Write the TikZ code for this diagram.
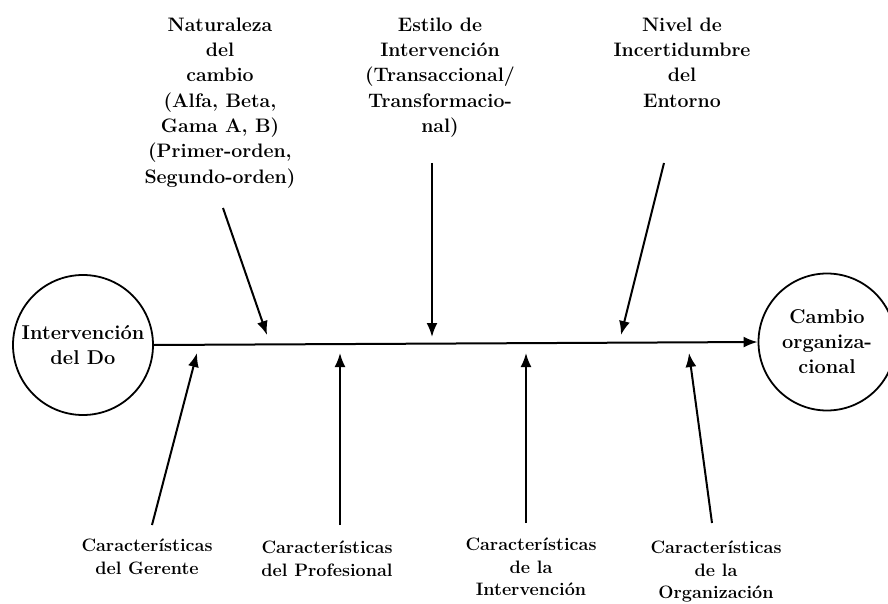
\documentclass[tikz,border=0pt]{standalone}
\usepackage{fontspec}
\usetikzlibrary{arrows.meta}
\begin{document}
\begin{tikzpicture}[x=1pt,y=-1pt,
  font=\bfseries,
  circ/.style={draw,circle,line width=1.8pt,inner sep=0pt,align=center,
    font=\bfseries\fontsize{20}{25}\selectfont},
  toplab/.style={align=center,inner sep=0pt,anchor=north,
    font=\bfseries\fontsize{19.5}{25.3}\selectfont},
  botlab/.style={align=center,inner sep=0pt,anchor=north,
    font=\bfseries\fontsize{18}{22.2}\selectfont},
  arr/.style={line width=2pt,-{Latex[length=14pt,width=11pt]}}]
\useasboundingbox (0,0) rectangle (888,604);
% circles
\node[circ,minimum size=140pt] (start) at (83,345) {Intervención\\del Do};
\node[circ,minimum size=137pt] (end) at (827,342) {Cambio\\organiza-\\cional};
% main spine
\draw[arr] (start.east) -- (end.west);
% top labels
\node[toplab] (nat) at (220,17.5) {Naturaleza\\del\\cambio\\(Alfa, Beta,\\Gama A, B)\\(Primer-orden,\\Segundo-orden)};
\node[toplab] (est) at (440,17.5) {Estilo de\\Intervención\\(Transaccional/\\Transformacio-\\nal)};
\node[toplab] (niv) at (682,17.5) {Nivel de\\Incertidumbre\\del\\Entorno};
% bottom labels
\node[botlab] (ger) at (147,539) {Características\\del Gerente};
\node[botlab] (pro) at (327,541) {Características\\del Profesional};
\node[botlab] (int) at (531,538) {Características\\de la\\Intervención};
\node[botlab] (org) at (716,541) {Características\\de la\\Organización};
% arrow endpoints
\coordinate (natS) at (223,208); \coordinate (natE) at (267,335);
\coordinate (estS) at (432,163); \coordinate (estE) at (432,337);
\coordinate (nivS) at (664,163); \coordinate (nivE) at (621,335);
\coordinate (gerS) at (152,525); \coordinate (gerE) at (197,353);
\coordinate (proS) at (340,525); \coordinate (proE) at (340,353);
\coordinate (intS) at (526,523); \coordinate (intE) at (526,353);
\coordinate (orgS) at (712,523); \coordinate (orgE) at (689,353);
\draw[arr] (natS) -- (natE);
\draw[arr] (estS) -- (estE);
\draw[arr] (nivS) -- (nivE);
\draw[arr] (gerS) -- (gerE);
\draw[arr] (proS) -- (proE);
\draw[arr] (intS) -- (intE);
\draw[arr] (orgS) -- (orgE);
\end{tikzpicture}
\end{document}
